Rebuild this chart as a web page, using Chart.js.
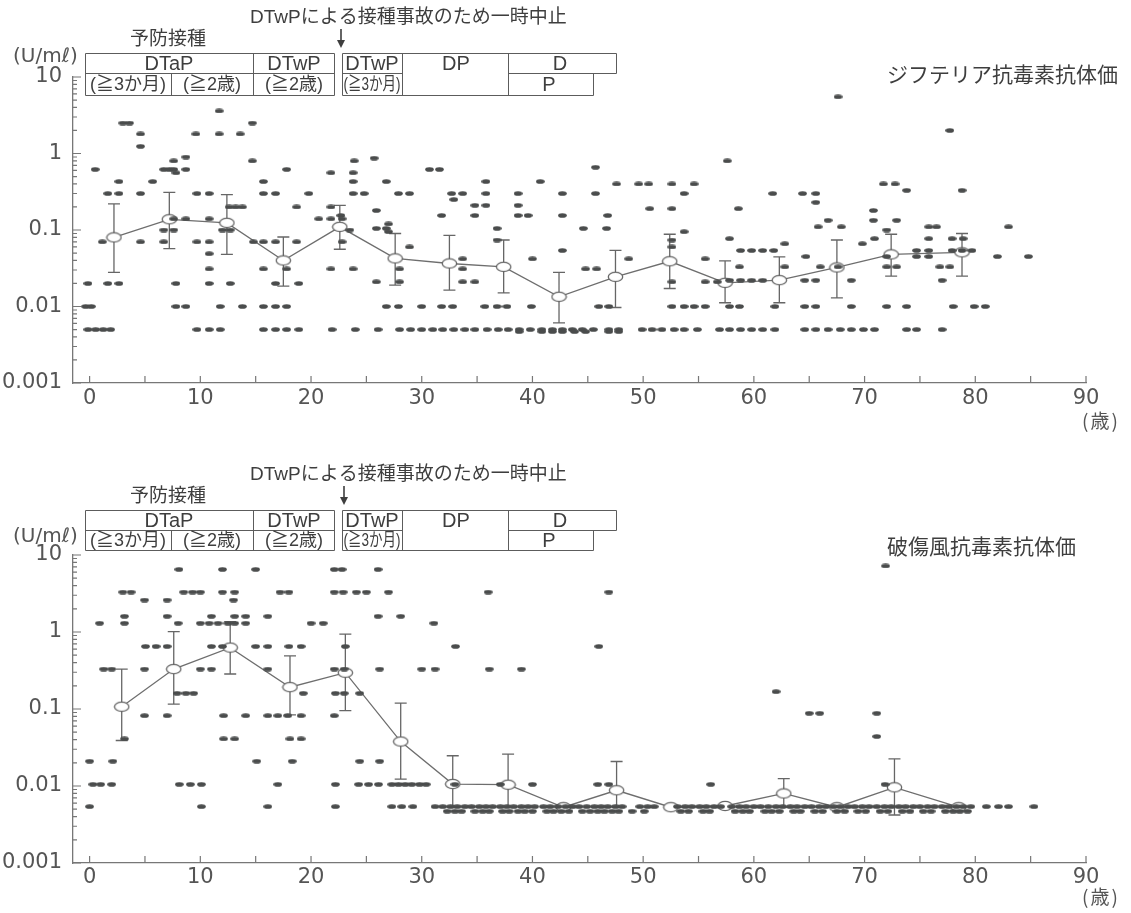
<!DOCTYPE html>
<html>
<head>
<meta charset="utf-8">
<script src="https://cdn.jsdelivr.net/npm/chart.js@4.4.1/dist/chart.umd.min.js"></script>
<style>
  html, body { margin: 0; padding: 0; background: #ffffff; }
  canvas { position: absolute; left: 0; }
</style>
</head>
<body>
<canvas id="dip" width="1131" height="456" style="top:0px"></canvas>
<canvas id="tet" width="1131" height="457" style="top:456px"></canvas>
<script>
// ---- axes ----
const ageTicks = [0, 10, 20, 30, 40, 50, 60, 70, 80, 90];
const titerTicks = [0.001, 0.01, 0.1, 1, 10];
const titerTickLabels = ['0.001', '0.01', '0.1', '1', '10'];

// ---- texts ----
const suspendNote = 'DTwPによる接種事故のため一時中止';
const scheduleHeading = '予防接種';
const dipTitle = 'ジフテリア抗毒素抗体価';
const tetTitle = '破傷風抗毒素抗体価';
const titerUnit = '(U/mℓ)';
const ageUnit = '(歳)';
const scheduleRow1Left = ['DTaP', 'DTwP'];
const scheduleRow2Left = ['(≧3か月)', '(≧2歳)', '(≧2歳)'];
const scheduleRow1Right = ['DTwP', 'DP', 'D'];
const scheduleRow2Right = ['(≧3か月)', 'P'];

// ---- diphtheria antitoxin: individual titers (U/ml) and the ages at each titer ----
const dipLevels = [5.5, 3.6, 2.5, 2.0, 1.8, 1.24, 0.9, 0.87, 0.8, 0.66, 0.62, 0.56, 0.43, 0.40, 0.33, 0.30,
  0.25, 0.23, 0.21, 0.20, 0.19, 0.18, 0.155, 0.14, 0.134, 0.12, 0.11, 0.105, 0.1, 0.095, 0.077, 0.074,
  0.07, 0.066, 0.06, 0.054, 0.049, 0.045, 0.042, 0.033, 0.031, 0.022, 0.021, 0.02, 0.01, 0.005, 0.0047];
const dipAges = [
  [67.6],
  [11.7],
  [3.0, 3.6, 14.7],
  [77.7],
  [4.6, 9.6, 11.7, 13.6],
  [4.6],
  [8.7],
  [25.7],
  [7.6, 14.7, 23.9, 57.6],
  [45.7],
  [0.5, 6.7, 7.2, 7.6, 8.7, 17.8, 30.7, 31.6],
  [7.8, 21.8, 23.8],
  [2.65, 5.7, 15.7, 23.8, 26.8, 35.8, 40.7],
  [47.6, 49.6, 50.5, 52.6, 54.6, 71.7, 72.75],
  [73.8, 78.8],
  [1.65, 2.65, 4.6, 9.7, 10.8, 15.7, 16.8, 19.8, 23.8, 24.8, 27.9, 28.9, 32.7, 33.7, 35.8, 38.7, 42.7, 45.7, 53.7, 61.7, 64.4, 65.6],
  [32.9],
  [65.6],
  [34.8, 35.8, 38.7],
  [12.6, 13.2, 13.8, 18.7, 21.8],
  [50.6, 52.6, 58.6],
  [25.9, 70.8],
  [22.7, 31.8, 34.8, 38.7, 39.6, 42.7, 46.8],
  [7.6, 8.7, 10.8, 20.7, 21.8, 22.8],
  [66.7, 70.8, 72.9],
  [27.0],
  [65.8, 67.9, 75.8, 76.5, 83.0],
  [25.9, 26.8, 36.8, 44.6, 46.7],
  [6.7, 7.6, 12.0, 12.7, 23.5, 72.0],
  [27.0, 53.7],
  [57.8, 70.9, 75.8, 77.9, 78.9],
  [36.8, 52.6],
  [1.15, 4.6, 6.7, 9.7, 10.8, 14.8, 15.7, 16.8, 18.7, 22.8],
  [62.8, 69.8],
  [28.9, 52.6],
  [42.7, 58.8, 59.8, 60.8, 61.8, 74.7, 75.8, 77.9, 78.8, 79.7],
  [10.8],
  [64.7, 72.0, 74.7, 75.8, 82.0, 84.8],
  [33.7, 40.0, 48.7, 55.6],
  [58.7, 62.8, 66.0, 67.6, 72.0, 72.9, 76.8, 77.7],
  [10.8, 15.7, 17.8, 21.8, 23.8, 28.0, 33.7, 44.8, 45.8],
  [57.8, 58.8, 59.8, 60.8, 64.6, 65.6, 68.8, 77.0],
  [25.9, 28.0, 33.7, 34.8, 52.6, 55.6, 56.7],
  [-0.15, 1.65, 2.65, 7.8, 10.8, 12.7, 16.8, 18.9],
  [-0.35, 0.15, 7.8, 8.7, 11.8, 13.8, 15.7, 16.8, 17.8, 26.8, 27.9, 30.0, 31.8, 32.8, 35.7, 36.8, 37.7, 39.9,
   46.0, 46.9, 52.6, 53.7, 54.6, 55.6, 57.8, 58.7, 61.9, 64.6, 65.6, 68.8, 72.0, 73.8, 78.0, 79.9, 80.9],
  [-0.15, 0.54, 1.23, 1.9, 9.7, 10.8, 11.8, 15.7, 16.8, 17.8, 18.9, 21.9, 24.0, 26.05, 28.0, 29.0, 30.0, 31.0,
   31.9, 32.9, 33.9, 34.8, 35.9, 36.9, 37.8, 38.8, 39.8, 40.85, 41.8, 42.7, 43.6, 44.5, 45.5, 46.9, 47.8, 49.9,
   50.8, 51.7, 52.8, 53.7, 54.9, 56.9, 57.8, 58.8, 59.8, 60.8, 61.9, 64.6, 65.6, 66.7, 67.8, 68.8, 69.9, 70.9,
   73.8, 74.7, 77.0],
  [38.8, 40.85, 41.8, 42.7, 43.8, 44.8, 46.9, 47.8]
];
// geometric means per age group with their ±SD range
const dipMeanAges = [2.2, 7.2, 12.4, 17.5, 22.6, 27.6, 32.5, 37.4, 42.4, 47.5, 52.4, 57.4, 62.3, 67.5, 72.4, 78.8];
const dipMeans = [0.08, 0.138, 0.124, 0.040, 0.11, 0.0425, 0.0365, 0.033, 0.0134, 0.0244, 0.039, 0.0204, 0.0221, 0.0324, 0.048, 0.051];
const dipHigh = [0.22, 0.31, 0.29, 0.081, 0.21, 0.09, 0.085, 0.074, 0.028, 0.054, 0.088, 0.0395, 0.0446, 0.074, 0.088, 0.09];
const dipLow = [0.028, 0.057, 0.048, 0.0185, 0.056, 0.019, 0.0164, 0.0151, 0.0061, 0.0097, 0.0172, 0.0112, 0.0112, 0.013, 0.025, 0.025];

// ---- tetanus antitoxin ----
const tetLevels = [7.2, 6.5, 3.3, 2.6, 1.6, 1.3, 0.65, 0.33, 0.168, 0.16, 0.088, 0.082, 0.044, 0.041, 0.021, 0.0105, 0.0054, 0.0047];
const tetAges = [
  [71.9],
  [8.07, 12.0, 15.0, 22.1, 22.8, 26.05],
  [3.0, 3.75, 8.5, 9.3, 10.0, 12.0, 13.1, 17.2, 18.0, 22.1, 22.9, 24.1, 25.0, 27.0, 36.0, 46.9],
  [4.96, 7.0, 13.0],
  [3.15, 7.0, 11.0, 13.1, 14.1, 16.1, 26.05, 28.1],
  [0.9, 3.15, 8.0, 10.0, 10.8, 11.6, 12.5, 13.1, 14.1, 20.0, 21.1, 31.1],
  [5.05, 6.0, 7.0, 11.0, 12.0, 15.0, 16.1, 18.0, 19.1, 23.1, 33.05, 46.0],
  [1.27, 2.0, 4.96, 10.0, 11.0, 16.1, 22.1, 23.0, 26.2, 30.0, 31.2, 36.1, 39.0],
  [62.0],
  [7.9, 8.7, 9.4, 19.3, 22.2, 23.0, 24.4],
  [65.0, 65.95, 71.1],
  [4.96, 7.0, 12.1, 14.1, 16.1, 17.0, 17.9, 19.1, 22.1],
  [71.1],
  [3.15, 12.1, 13.1, 18.1, 19.1],
  [0.0, 2.1, 15.1, 18.3, 24.4, 26.2],
  [0.3, 1.0, 2.0, 8.1, 9.1, 10.1, 17.0, 22.2, 24.3, 25.2, 26.1, 27.3, 27.9, 28.5, 29.1, 29.8, 30.4, 33.0, 37.1,
   40.0, 45.9, 46.9, 56.1, 71.85],
  [0.0, 10.1, 16.1, 22.2, 27.3, 28.2, 29.2, 31.2, 31.9, 32.6, 33.2, 33.9, 34.5, 35.2, 35.8, 36.4, 37.1, 37.7,
   38.3, 39.0, 39.6, 40.2, 41.0, 41.6, 42.3, 43.0, 43.6, 44.2, 44.9, 45.6, 46.2, 46.8, 47.5, 48.1, 49.7, 50.4,
   51.0, 53.1, 53.8, 54.4, 55.1, 55.7, 56.4, 57.0, 58.0, 58.7, 59.3, 60.0, 60.6, 61.3, 62.0, 62.6, 63.3, 63.9,
   64.6, 65.2, 65.9, 66.5, 67.2, 67.8, 68.5, 69.1, 69.8, 70.4, 71.1, 71.8, 72.4, 73.1, 73.7, 74.4, 75.0, 75.7,
   76.3, 77.0, 77.6, 78.3, 78.9, 79.6, 81.0, 82.1, 83.0, 85.3],
  [32.3, 33.0, 33.6, 34.8, 35.5, 36.1, 37.3, 37.9, 38.7, 39.3, 40.0, 41.3, 41.9, 42.6, 43.3, 44.5, 45.2, 45.9,
   46.5, 47.2, 47.8, 49.0, 50.1, 53.4, 54.1, 55.4, 56.0, 58.3, 59.0, 59.6, 61.0, 61.6, 62.3, 63.6, 64.2, 65.5,
   66.2, 67.5, 68.2, 69.4, 70.1, 71.4, 72.1, 73.4, 74.1, 75.3, 76.0, 77.3, 78.0, 78.6, 79.3]
];
const tetMeanAges = [2.9, 7.6, 12.7, 18.1, 23.1, 28.1, 32.8, 37.8, 42.8, 47.6, 52.5, 57.4, 62.7, 67.5, 72.7, 78.5];
const tetMeans = [0.107, 0.33, 0.627, 0.192, 0.296, 0.0378, 0.0106, 0.0104, 0.0053, 0.0088, 0.0053, 0.0055, 0.008, 0.0053, 0.0096, 0.0053];
const tetHigh = [0.33, 1.01, 1.36, 0.489, 0.94, 0.119, 0.0247, 0.026, 0.0053, 0.0208, 0.0053, 0.0055, 0.0125, 0.0053, 0.0225, 0.0053];
const tetLow = [0.039, 0.116, 0.285, 0.084, 0.0955, 0.0123, 0.0054, 0.0054, 0.0053, 0.0054, 0.0053, 0.0055, 0.0053, 0.0053, 0.0042, 0.0053];

// ---- marker stamps ----
function ellipseStamp(w, h, fill, stroke, lw) {
  const c = document.createElement('canvas');
  c.width = w; c.height = h;
  const g = c.getContext('2d');
  g.beginPath();
  g.ellipse(w / 2, h / 2, w / 2 - (lw || 0.2), h / 2 - (lw || 0.2), 0, 0, Math.PI * 2);
  g.fillStyle = fill; g.fill();
  if (stroke) { g.strokeStyle = stroke; g.lineWidth = lw; g.stroke(); }
  return c;
}
const dotStamp = ellipseStamp(9, 5, '#4a4c4c');
const meanStamp = ellipseStamp(17, 12, '#ffffff', '#666666', 1.3);

const LATIN = '"DejaVu Sans", sans-serif';
const CJK = '"Noto Sans CJK JP", sans-serif';
const CELL = '"Liberation Sans", "Noto Sans CJK JP", sans-serif';

function line(ctx, x1, y1, x2, y2) { ctx.moveTo(x1, y1); ctx.lineTo(x2, y2); }

// inward axis ticks, schedule table, headings
function makeDecor(h) {
  return {
    id: 'decor',
    afterDraw(chart) {
      const { ctx, chartArea: a, scales: { x, y } } = chart;
      ctx.save();
      ctx.strokeStyle = '#777777';
      ctx.lineWidth = 1.2;
      ctx.beginPath();
      for (let e = -3; e <= 1; e++) {
        for (let m = 1; m <= 9; m++) {
          const v = m * Math.pow(10, e);
          if (v > 10.0001) break;
          const py = y.getPixelForValue(v);
          line(ctx, a.left, py, a.left + (m === 1 ? 8 : 4), py);
        }
      }
      for (let t = 0; t <= 90; t += 5) {
        const px = x.getPixelForValue(t);
        line(ctx, px, a.bottom, px, a.bottom - 7);
      }
      ctx.stroke();

      ctx.fillStyle = '#3e3e3e';
      ctx.textBaseline = 'middle';
      ctx.textAlign = 'left';
      ctx.font = '19px ' + CELL;
      ctx.fillText(suspendNote, 250, h.noteY, 318);
      ctx.font = '19px ' + CJK;
      ctx.fillText(scheduleHeading, 130, h.headY);
      ctx.font = '21px ' + CJK;
      ctx.fillText(h.title, 887, h.titleY);
      ctx.fillStyle = '#555555';
      ctx.font = '20px ' + LATIN;
      ctx.fillText(titerUnit, 13, h.unitY);
      ctx.font = '19px ' + CJK;
      ctx.letterSpacing = '2px';
      ctx.fillText(ageUnit, 1082, h.ageY);
      ctx.letterSpacing = '0px';

      // arrow marking the suspension
      ctx.fillStyle = '#3e3e3e';
      ctx.strokeStyle = '#3e3e3e';
      ctx.lineWidth = 1.6;
      ctx.beginPath();
      line(ctx, h.arrowX, h.arrowTop, h.arrowX, h.arrowBot - 6);
      ctx.stroke();
      ctx.beginPath();
      ctx.moveTo(h.arrowX - 4, h.arrowBot - 8);
      ctx.lineTo(h.arrowX + 4, h.arrowBot - 8);
      ctx.lineTo(h.arrowX, h.arrowBot);
      ctx.closePath();
      ctx.fill();

      // schedule table
      const T = h.tTop + 0.5, M = h.tMid + 0.5, B = h.tBot + 0.5;
      ctx.strokeStyle = '#5c5c5c';
      ctx.lineWidth = 1;
      ctx.beginPath();
      // left block
      ctx.rect(85.5, T, 249, B - T);
      line(ctx, 85.5, M, 334.5, M);
      line(ctx, 253.5, T, 253.5, B);
      line(ctx, 171.5, M, 171.5, B);
      // right block
      line(ctx, 342.5, T, 616.5, T);
      line(ctx, 342.5, M, 402.5, M);
      line(ctx, 508.5, M, 616.5, M);
      line(ctx, 342.5, B, 593.5, B);
      line(ctx, 342.5, T, 342.5, B);
      line(ctx, 402.5, T, 402.5, B);
      line(ctx, 508.5, T, 508.5, B);
      line(ctx, 616.5, T, 616.5, M);
      line(ctx, 593.5, M, 593.5, B);
      ctx.stroke();

      const r1 = (h.tTop + h.tMid) / 2 + 1, r2 = (h.tMid + h.tBot) / 2 + 1;
      ctx.fillStyle = '#3e3e3e';
      ctx.textAlign = 'center';
      ctx.font = '20px ' + CELL;
      ctx.fillText(scheduleRow1Left[0], 169, r1);
      ctx.fillText(scheduleRow1Left[1], 294, r1);
      ctx.fillText(scheduleRow1Right[0], 372, r1, 55);
      ctx.fillText(scheduleRow1Right[1], 456, r1);
      ctx.fillText(scheduleRow1Right[2], 560, r1);
      ctx.fillText(scheduleRow2Right[1], 549, r2);
      ctx.font = '18px ' + CELL;
      ctx.fillText(scheduleRow2Left[0], 128, r2, 80);
      ctx.fillText(scheduleRow2Left[1], 212, r2, 78);
      ctx.fillText(scheduleRow2Left[2], 294, r2, 78);
      ctx.fillText(scheduleRow2Right[0], 372, r2, 57);
      ctx.restore();
    }
  };
}

// vertical ±SD bars with caps
function makeErrorBars(ages, lo, hi) {
  return {
    id: 'errorBars',
    beforeDatasetsDraw(chart) {
      const { ctx, scales: { x, y } } = chart;
      ctx.save();
      ctx.strokeStyle = '#666666';
      ctx.lineWidth = 1.3;
      ctx.beginPath();
      ages.forEach((a, i) => {
        const px = x.getPixelForValue(a);
        const top = y.getPixelForValue(hi[i]);
        const bot = y.getPixelForValue(lo[i]);
        if (Math.abs(bot - top) < 2) return;
        line(ctx, px, top, px, bot);
        line(ctx, px - 6, top, px + 6, top);
        line(ctx, px - 6, bot, px + 6, bot);
      });
      ctx.stroke();
      ctx.restore();
    }
  };
}

function buildChart(id, levels, agesByLevel, meanAges, means, lo, hi, h) {
  const dots = [];
  levels.forEach((lv, i) => agesByLevel[i].forEach(a => dots.push({ x: a, y: lv })));
  const meanPts = meanAges.map((a, i) => ({ x: a, y: means[i] }));
  const tickFont = { family: 'DejaVu Sans', size: 21 };
  return new Chart(document.getElementById(id), {
    type: 'scatter',
    data: {
      datasets: [
        // individual sera drawn above the mean curve
        { data: dots, pointStyle: dotStamp, pointRadius: 3, showLine: false, order: 1 },
        { data: meanPts, pointStyle: meanStamp, pointRadius: 3, showLine: true,
          borderColor: '#6e6e6e', borderWidth: 1.3, tension: 0, order: 2 }
      ]
    },
    options: {
      responsive: false,
      animation: false,
      events: [],
      layout: { padding: { left: 0, right: 45, top: h.plotTop, bottom: 0 } },
      plugins: { legend: { display: false }, tooltip: { enabled: false } },
      scales: {
        x: {
          type: 'linear', min: -1.5, max: 90,
          afterBuildTicks: s => { s.ticks = ageTicks.map(v => ({ value: v })); },
          afterFit: s => { s.height = h.xHeight; },
          ticks: { font: tickFont, color: '#555555', padding: h.xPad, maxRotation: 0, autoSkip: false,
                   callback: v => String(v) },
          grid: { display: true, drawOnChartArea: false, drawTicks: false },
          border: { display: true, color: '#777777', width: 1.3 }
        },
        y: {
          type: 'logarithmic', min: 0.001, max: 10,
          afterBuildTicks: s => { s.ticks = titerTicks.map(v => ({ value: v })); },
          afterFit: s => { s.width = 73; },
          ticks: { font: tickFont, color: '#555555', padding: 11, autoSkip: false,
                   callback: v => titerTickLabels[titerTicks.indexOf(v)] },
          grid: { display: true, drawOnChartArea: false, drawTicks: false },
          border: { display: true, color: '#777777', width: 1.3 }
        }
      }
    },
    plugins: [makeErrorBars(meanAges, lo, hi), makeDecor(h)]
  });
}

buildChart('dip', dipLevels, dipAges, dipMeanAges, dipMeans, dipLow, dipHigh, {
  plotTop: 77, xHeight: 73, xPad: 3, title: dipTitle, titleY: 74,
  noteY: 18, headY: 38, unitY: 57, ageY: 421,
  arrowX: 341, arrowTop: 29, arrowBot: 48,
  tTop: 53, tMid: 73, tBot: 95
});
buildChart('tet', tetLevels, tetAges, tetMeanAges, tetMeans, tetLow, tetHigh, {
  plotTop: 99, xHeight: 50, xPad: 2, title: tetTitle, titleY: 90,
  noteY: 19, headY: 39, unitY: 81, ageY: 441,
  arrowX: 344, arrowTop: 30, arrowBot: 49,
  tTop: 54, tMid: 74, tBot: 94
});
</script>
</body>
</html>
